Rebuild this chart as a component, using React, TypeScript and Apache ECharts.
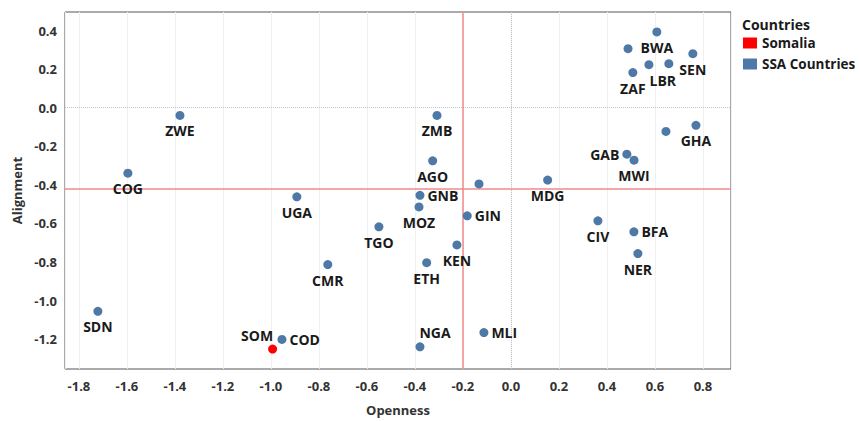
import React, { useEffect, useRef } from "react";
import * as echarts from "echarts";

// SSA countries: code (empty = unlabeled), openness (x), alignment (y)
const ssaCodes = ["BWA", "", "SEN", "LBR", "", "ZAF", "GHA", "", "GAB", "MWI", "ZWE", "ZMB", "COG", "AGO", "", "MDG", "GNB", "MOZ", "GIN", "KEN", "ETH", "TGO", "UGA", "CMR", "SDN", "COD", "NGA", "MLI", "CIV", "BFA", "NER"];
const ssaOpenness = [0.608, 0.488, 0.758, 0.658, 0.575, 0.508, 0.771, 0.646, 0.483, 0.513, -1.379, -0.308, -1.596, -0.326, -0.133, 0.153, -0.379, -0.383, -0.182, -0.225, -0.351, -0.55, -0.892, -0.763, -1.721, -0.954, -0.379, -0.1125, 0.3625, 0.5125, 0.529];
const ssaAlignment = [0.393, 0.306, 0.28, 0.228, 0.223, 0.182, -0.091, -0.123, -0.241, -0.272, -0.04, -0.04, -0.339, -0.275, -0.395, -0.375, -0.454, -0.514, -0.56, -0.711, -0.803, -0.617, -0.462, -0.813, -1.055, -1.201, -1.239, -1.165, -0.586, -0.643, -0.756];

const somCodes = ["SOM"];
const somOpenness = [-0.993];
const somAlignment = [-1.251];

// reference lines (averages)
const refOpenness = -0.205;
const refAlignment = -0.42;

const legendNames = ["Somalia", "SSA Countries"];

const FONT = "'Open Sans', 'Noto Sans', sans-serif";

const labelStyles: Record<string, any> = {
  right: { position: "right", distance: 3 },
  left: { position: "left", distance: 3 },
  topLeft: { position: "left", distance: 3, offset: [8, -14] },
  topRight: { position: "right", distance: 3, offset: [-8, -14] },
  bottom: { position: "bottom", distance: 4 },
  bottomShift: { position: "bottom", distance: 5, offset: [-6, 0] },
};
const labelPlacement: Record<string, string> = {
  GNB: "right", GIN: "right", COD: "right", MLI: "right", BFA: "right",
  GAB: "left", SOM: "topLeft", NGA: "topRight", LBR: "bottomShift",
};

function makePoints(codes: string[], xs: number[], ys: number[]) {
  return codes.map((c, i) => {
    const place = labelPlacement[c] || "bottom";
    return {
      name: c,
      value: [xs[i], ys[i]],
      label: c ? { show: true, ...labelStyles[place] } : { show: false },
    };
  });
}

function fmt(v: number) {
  const r = Math.round(v * 5);
  if (Math.abs(v * 5 - r) > 1e-6) return "";
  const n = r / 5;
  if (Math.abs(n) < 1e-9) return "0.0";
  return n.toFixed(1);
}

export default function App() {
  const ref = useRef<HTMLDivElement>(null);
  useEffect(() => {
    if (!ref.current) return;
    const chart = echarts.init(ref.current, null, { renderer: "svg" });
    const labelText = {
      formatter: (p: any) => p.name,
      color: "#1a1a1a",
      fontFamily: FONT,
      fontWeight: "bold",
      fontSize: 14,
    };
    const tickLabel = { formatter: fmt, fontFamily: FONT, fontWeight: "bold", fontSize: 13, color: "#333" };
    chart.setOption({
      animation: false,
      backgroundColor: "#fff",
      textStyle: { fontFamily: FONT },
      grid: {
        left: 65, right: 129, top: 12, bottom: 50,
        show: true, borderColor: "#555", borderWidth: 1, backgroundColor: "transparent",
      },
      graphic: [
        {
          type: "text", left: 742, top: 17,
          style: { text: "Countries", font: `bold 14px ${FONT}`, fill: "#1a1a1a" },
        },
      ],
      legend: {
        data: legendNames,
        orient: "vertical",
        left: 743, top: 36,
        padding: 0,
        itemWidth: 14, itemHeight: 11, itemGap: 7,
        icon: "rect",
        selectedMode: false,
        textStyle: { fontFamily: FONT, fontWeight: "bold", fontSize: 13.5, color: "#1a1a1a", lineHeight: 12 },
      },
      xAxis: {
        type: "value",
        min: -1.858, max: 0.917,
        splitNumber: 14,
        name: "Openness",
        nameLocation: "middle",
        nameGap: 34,
        nameTextStyle: { fontFamily: FONT, fontWeight: "bold", fontSize: 13, color: "#333" },
        axisLine: { show: false },
        axisTick: { show: false },
        axisLabel: { ...tickLabel, margin: 10 },
        splitLine: { show: true, lineStyle: { color: "#f0f0f0", width: 1 } },
      },
      yAxis: {
        type: "value",
        min: -1.354, max: 0.496,
        splitNumber: 9,
        name: "Alignment",
        nameLocation: "middle",
        nameGap: 42,
        nameTextStyle: { fontFamily: FONT, fontWeight: "bold", fontSize: 13, color: "#333" },
        axisLine: { show: false },
        axisTick: { show: false },
        axisLabel: { ...tickLabel, margin: 8 },
        splitLine: { show: false },
      },
      series: [
        {
          name: "SSA Countries",
          type: "scatter",
          symbolSize: 9,
          itemStyle: { color: "#4e79a7", opacity: 1 },
          label: labelText,
          data: makePoints(ssaCodes, ssaOpenness, ssaAlignment),
          z: 3,
          markLine: {
            silent: true,
            symbol: "none",
            z: 1,
            label: { show: false },
            animation: false,
            data: [
              { xAxis: 0, lineStyle: { color: "#c4c4c4", type: "dotted", width: 1 } },
              { yAxis: 0, lineStyle: { color: "#c4c4c4", type: "dotted", width: 1 } },
              { xAxis: refOpenness, lineStyle: { color: "#f08a8a", type: "solid", width: 1.5 } },
              { yAxis: refAlignment, lineStyle: { color: "#f08a8a", type: "solid", width: 1.5 } },
            ],
          },
        },
        {
          name: "Somalia",
          type: "scatter",
          symbolSize: 9,
          itemStyle: { color: "#ff0000", opacity: 1 },
          label: labelText,
          data: makePoints(somCodes, somOpenness, somAlignment),
          z: 4,
        },
      ],
    });
    return () => chart.dispose();
  }, []);
  return <div ref={ref} style={{ width: 860, height: 421, position: "absolute", left: 0, top: 0 }} />;
}
